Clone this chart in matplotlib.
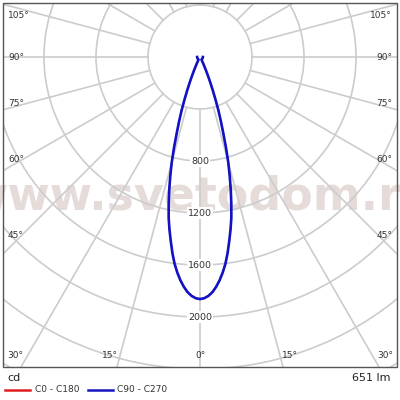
import numpy as np
import matplotlib.pyplot as plt
from matplotlib.patches import Rectangle, Circle

# luminous intensity, cd (C90-C270 and C0-C180 coincide)
gamma = [0, 1, 2, 3, 4, 5, 6, 7, 8, 9, 10, 11, 12, 13, 14, 15, 16, 17, 18, 19, 20,
         21, 22, 23, 24, 25, 26, 27, 28, 29, 30, 45, 60, 75, 90]
intensity = [1862, 1856, 1839, 1812, 1773, 1725, 1668, 1603, 1524, 1436, 1351, 1263,
             1159, 1053, 946, 841, 725, 612, 520, 436, 349, 273, 210, 157, 114, 81,
             58, 42, 32, 26, 23, 22, 22, 22, 22]
ring_values = [400, 800, 1200, 1600, 2000, 2400, 2800]
ring_labels = [800, 1200, 1600, 2000]
angle_labels_side = [105, 90, 75, 60, 45]
angle_labels_bottom = [30, 15, 0, 15, 30]
flux = '651 lm'

cx, cy = 200, 57
scale = 52 / 400.0  # px per cd

fig = plt.figure(figsize=(4, 4), dpi=100)
ax = fig.add_axes([0, 0, 1, 1])
ax.set_xlim(0, 400)
ax.set_ylim(400, 0)
ax.axis('off')

box = Rectangle((3, 3), 394, 364, fill=False, ec='#555555', lw=1.0, zorder=6)
ax.add_patch(box)
clip = Rectangle((3, 3), 394, 364, transform=ax.transData, visible=False)
ax.add_patch(clip)

# watermark
wm = ax.text(200, 210, 'www.svetodom.ru', ha='center', va='baseline', fontsize=33,
             family='DejaVu Sans', weight='bold', color='#e5dcd9', zorder=1)
wm.set_clip_path(clip)

grid = '#cccccc'
for v in ring_values:
    c = Circle((cx, cy), v * scale, fill=False, ec=grid, lw=1.2, zorder=2)
    ax.add_patch(c)
    c.set_clip_path(clip)
for a in range(0, 360, 15):
    t = np.radians(a)
    r0, r1 = 400 * scale, 3200 * scale
    ln, = ax.plot([cx + r0 * np.sin(t), cx + r1 * np.sin(t)],
                  [cy + r0 * np.cos(t), cy + r1 * np.cos(t)], color=grid, lw=1.2, zorder=2)
    ln.set_clip_path(clip)

for v in ring_labels:
    ax.text(cx, cy + v * scale, str(v), ha='center', va='center', fontsize=6.8,
            color='#333333', zorder=4,
            bbox=dict(boxstyle='square,pad=0.15', fc='white', ec='none'))

# curves
g = np.radians(np.array(gamma))
I = np.array(intensity)
th = np.concatenate([-g[::-1], g[1:]])
rr = np.concatenate([I[::-1], I[1:]]) * scale
xs = cx + rr * np.sin(th)
ys = cy + rr * np.cos(th)
ax.plot(xs, ys, color='#e02020', lw=1.0, zorder=5)
ax.plot(xs, ys, color='#1212c4', lw=1.9, zorder=5, solid_joinstyle='round')

# angle labels
fs = 6.5
side_y = [15, 57, 104, 160, 236]
for a, y in zip(angle_labels_side, side_y):
    ax.text(8, y, '%d°' % a, ha='left', va='center', fontsize=fs, color='#333333', zorder=6)
    ax.text(392, y, '%d°' % a, ha='right', va='center', fontsize=fs, color='#333333', zorder=6)
bottom_x = [15, 110, 200, 290, 385]
for a, x in zip(angle_labels_bottom, bottom_x):
    ax.text(x, 356, '%d°' % a, ha='center', va='center', fontsize=fs, color='#333333', zorder=6)

ax.text(7, 378, 'cd', ha='left', va='center', fontsize=8, color='#222222')
ax.text(391, 378, flux, ha='right', va='center', fontsize=8, color='#222222')

ax.plot([5, 30], [390, 390], color='#e02020', lw=1.8)
ax.text(35, 390, 'C0 - C180', ha='left', va='center', fontsize=6.5, color='#333333')
ax.plot([88, 113], [390, 390], color='#1414c0', lw=1.8)
ax.text(117, 390, 'C90 - C270', ha='left', va='center', fontsize=6.5, color='#333333')

fig.savefig('out.png', dpi=100)
